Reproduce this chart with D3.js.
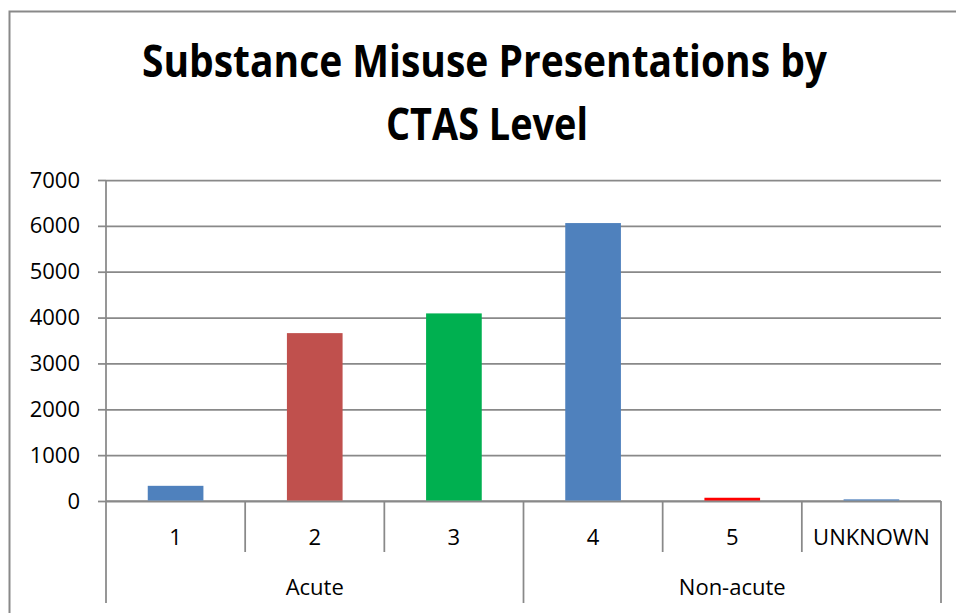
<!DOCTYPE html>
<html>
<head>
<meta charset="utf-8">
<script src="https://cdn.jsdelivr.net/npm/d3@7"></script>
<style>
  body { margin: 0; background: #fff; }
  svg { display: block; font-family: "Open Sans", sans-serif; }
</style>
</head>
<body>
<div class="home"></div>
<script>
// chart data
const categories = ["1", "2", "3", "4", "5", "UNKNOWN"];
const groups = ["Acute", "Acute", "Acute", "Non-acute", "Non-acute", "Non-acute"];
const values = [320, 3650, 4080, 6050, 60, 25];
const barColors = ["#4F81BD", "#C0504D", "#00B050", "#4F81BD", "#FF0000", "#4F81BD"];
const yTicks = [0, 1000, 2000, 3000, 4000, 5000, 6000, 7000];
const titleLines = ["Substance Misuse Presentations by", "CTAS Level"];

const width = 956;
const height = 613;
const gridColor = "#898989";
const labelSize = 22;

const svg = d3.select(".home").append("svg")
  .attr("width", width)
  .attr("height", height);

// outer chart border (runs off the right and bottom edge)
svg.append("rect")
  .attr("x", 9.5).attr("y", 11.5)
  .attr("width", 980).attr("height", 640)
  .attr("fill", "none")
  .attr("stroke", gridColor)
  .attr("stroke-width", 2);

// title
const titleLen = [685, 202];
svg.selectAll(".title")
  .data(titleLines)
  .enter().append("text")
  .attr("class", "title")
  .attr("x", (d, i) => i == 0 ? 484.5 : 487)
  .attr("y", (d, i) => 77 + i * 63)
  .attr("text-anchor", "middle")
  .attr("font-weight", "bold")
  .attr("font-size", 44)
  .attr("textLength", (d, i) => titleLen[i])
  .attr("lengthAdjust", "spacingAndGlyphs")
  .text(d => d);

// plot area
const plotLeft = 106, plotRight = 941, plotTop = 180, plotBottom = 501;
const catRowBottom = 552, groupRowBottom = 603;

const x = d3.scaleBand()
  .domain(categories)
  .range([plotLeft, plotRight])
  .paddingInner(0)
  .paddingOuter(0);

const barW = x.bandwidth() * 0.4;

const y = d3.scaleLinear()
  .domain([0, 7000])
  .range([plotBottom, plotTop]);

// gridlines
svg.append("g")
  .attr("class", "grid")
  .attr("transform", "translate(" + plotLeft + ",0)")
  .call(d3.axisLeft(y).tickValues(yTicks).tickSize(-(plotRight - plotLeft)).tickFormat(""))
  .call(g => g.select(".domain").remove())
  .call(g => g.selectAll("line").attr("stroke", gridColor).attr("stroke-width", 1.75));

// y axis with ticks and labels
svg.append("g")
  .attr("class", "yaxis")
  .attr("transform", "translate(" + plotLeft + ",0)")
  .call(d3.axisLeft(y).tickValues(yTicks).tickSize(8).tickPadding(18).tickFormat(d3.format("d")))
  .call(g => g.select(".domain").remove())
  .call(g => g.selectAll("line").attr("stroke", gridColor).attr("stroke-width", 1.75))
  .call(g => g.selectAll("text")
    .attr("font-family", "Open Sans")
    .attr("font-size", labelSize)
    .attr("fill", "#000"));

// vertical axis line, running down through the label rows
svg.append("line")
  .attr("x1", plotLeft).attr("x2", plotLeft)
  .attr("y1", plotTop).attr("y2", groupRowBottom)
  .attr("stroke", gridColor).attr("stroke-width", 1.75);

// category axis baseline
svg.append("line")
  .attr("x1", plotLeft).attr("x2", plotRight)
  .attr("y1", plotBottom).attr("y2", plotBottom)
  .attr("stroke", gridColor).attr("stroke-width", 1.75);

// bars (drawn over the baseline so the tiny ones still show)
svg.selectAll(".bar")
  .data(values)
  .enter().append("rect")
  .attr("class", "bar")
  .attr("x", (d, i) => x(categories[i]) + (x.bandwidth() - barW) / 2)
  .attr("y", d => y(d) - 0.5)
  .attr("width", barW)
  .attr("height", d => y(0) - y(d))
  .attr("fill", (d, i) => barColors[i]);

// category separators (taller where the group changes)
const bounds = categories.slice(1).map(c => x(c)).concat([plotRight]);
svg.selectAll(".sep")
  .data(bounds)
  .enter().append("line")
  .attr("class", "sep")
  .attr("x1", d => d).attr("x2", d => d)
  .attr("y1", plotBottom)
  .attr("y2", (d, i) => (i == bounds.length - 1 || groups[i] != groups[i + 1]) ? groupRowBottom : catRowBottom)
  .attr("stroke", gridColor).attr("stroke-width", 1.75);

// category labels
svg.selectAll(".catlabel")
  .data(categories)
  .enter().append("text")
  .attr("class", "catlabel")
  .attr("x", d => x(d) + x.bandwidth() / 2)
  .attr("y", 537)
  .attr("dy", "0.35em")
  .attr("text-anchor", "middle")
  .attr("font-size", labelSize)
  .text(d => d);

// group labels
const groupNames = Array.from(new Set(groups));
svg.selectAll(".grouplabel")
  .data(groupNames)
  .enter().append("text")
  .attr("class", "grouplabel")
  .attr("x", g => {
    const cats = categories.filter((c, i) => groups[i] == g);
    return (x(cats[0]) + x(cats[cats.length - 1]) + x.bandwidth()) / 2;
  })
  .attr("y", 587)
  .attr("dy", "0.35em")
  .attr("text-anchor", "middle")
  .attr("font-size", labelSize)
  .text(d => d);
</script>
</body>
</html>
